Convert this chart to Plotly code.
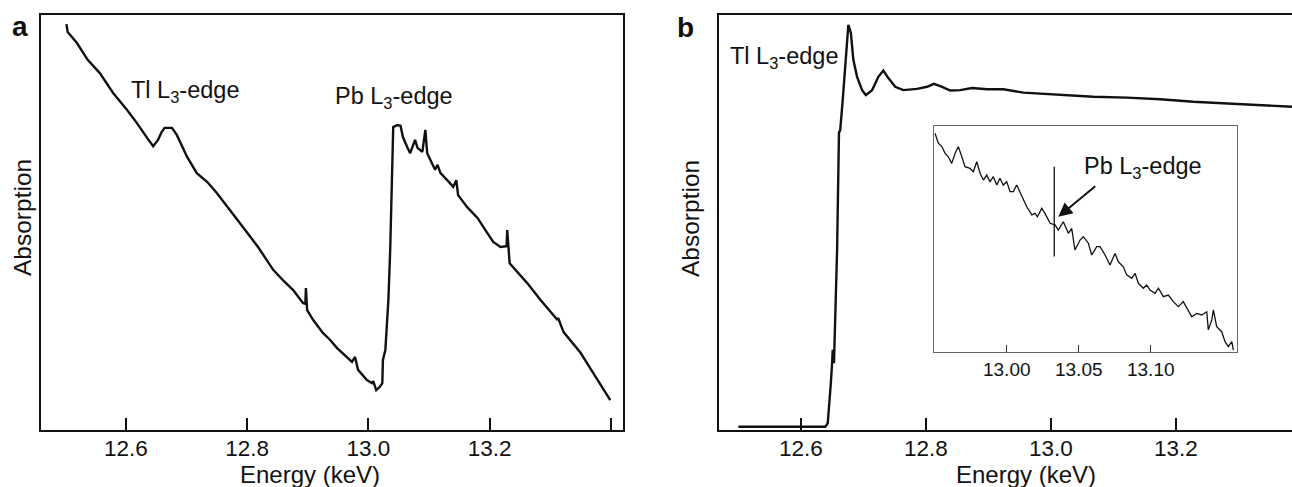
import plotly.graph_objects as go

# ---------------- data ----------------
# Panel a: full spectrum across both edges
energy_a = [12.502, 12.504, 12.519, 12.537, 12.557, 12.579, 12.602, 12.618, 12.635, 12.645,
            12.653, 12.659, 12.664, 12.676, 12.684, 12.701, 12.717, 12.734, 12.750, 12.772,
            12.793, 12.818, 12.843, 12.859, 12.876, 12.892, 12.896, 12.897, 12.899, 12.901,
            12.909, 12.925, 12.937, 12.948, 12.973, 12.978, 12.983, 12.998, 13.006, 13.008,
            13.013, 13.019, 13.023, 13.024, 13.028, 13.033, 13.036, 13.041, 13.048, 13.053,
            13.057, 13.064, 13.069, 13.077, 13.081, 13.089, 13.094, 13.097, 13.105, 13.110,
            13.114, 13.119, 13.130, 13.140, 13.145, 13.148, 13.163, 13.180, 13.196, 13.206,
            13.218, 13.228, 13.229, 13.231, 13.233, 13.262, 13.284, 13.312, 13.313, 13.322,
            13.350, 13.371, 13.399]
absorb_a = [0.978, 0.959, 0.933, 0.892, 0.860, 0.812, 0.771, 0.740, 0.704, 0.684,
            0.699, 0.718, 0.728, 0.728, 0.711, 0.658, 0.619, 0.598, 0.571, 0.530,
            0.489, 0.441, 0.386, 0.361, 0.337, 0.306, 0.304, 0.342, 0.289, 0.284,
            0.265, 0.234, 0.217, 0.198, 0.164, 0.176, 0.145, 0.120, 0.113, 0.118,
            0.096, 0.104, 0.113, 0.169, 0.193, 0.313, 0.434, 0.730, 0.735, 0.733,
            0.706, 0.682, 0.667, 0.699, 0.680, 0.670, 0.723, 0.667, 0.643, 0.627,
            0.639, 0.619, 0.602, 0.586, 0.602, 0.566, 0.537, 0.511, 0.475, 0.453,
            0.441, 0.443, 0.482, 0.434, 0.402, 0.354, 0.313, 0.265, 0.270, 0.236,
            0.186, 0.137, 0.072]

# Panel b: Tl L3-edge XANES
energy_b = [12.500, 12.588, 12.639, 12.643, 12.645, 12.648, 12.650, 12.651, 12.653, 12.655,
            12.658, 12.661, 12.663, 12.667, 12.671, 12.676, 12.680, 12.684, 12.690, 12.698,
            12.704, 12.714, 12.724, 12.732, 12.740, 12.751, 12.764, 12.786, 12.802, 12.813,
            12.826, 12.839, 12.855, 12.874, 12.898, 12.924, 12.956, 13.015, 13.068, 13.122,
            13.175, 13.228, 13.282, 13.335, 13.386]
absorb_b = [0.008, 0.008, 0.008, 0.016, 0.048, 0.113, 0.161, 0.193, 0.161, 0.272,
            0.434, 0.716, 0.723, 0.795, 0.875, 0.976, 0.957, 0.892, 0.851, 0.819,
            0.807, 0.819, 0.851, 0.866, 0.848, 0.827, 0.819, 0.822, 0.827, 0.834,
            0.827, 0.818, 0.819, 0.824, 0.821, 0.821, 0.813, 0.807, 0.803, 0.801,
            0.797, 0.791, 0.787, 0.783, 0.779]

# Inset: zoom around the Pb L3-edge
energy_inset = [12.9502, 12.9525, 12.9549, 12.9572, 12.9594, 12.9618, 12.9641, 12.9664, 12.9688, 12.9710,
                12.9745, 12.9768, 12.9792, 12.9815, 12.9838, 12.9861, 12.9884, 12.9907, 12.9931, 12.9953,
                12.9976, 13.0000, 13.0023, 13.0046, 13.0069, 13.0104, 13.0139, 13.0174, 13.0197, 13.0213,
                13.0243, 13.0266, 13.0301, 13.0335, 13.0358, 13.0393, 13.0428, 13.0451, 13.0474, 13.0509,
                13.0532, 13.0567, 13.0590, 13.0625, 13.0648, 13.0683, 13.0717, 13.0752, 13.0775, 13.0810,
                13.0833, 13.0868, 13.0891, 13.0914, 13.0949, 13.0972, 13.0995, 13.1030, 13.1053, 13.1088,
                13.1122, 13.1157, 13.1192, 13.1226, 13.1261, 13.1285, 13.1319, 13.1354, 13.1389, 13.1400,
                13.1424, 13.1435, 13.1458, 13.1493, 13.1516, 13.1539, 13.1563, 13.1574]
absorb_inset = [0.968, 0.924, 0.909, 0.879, 0.864, 0.835, 0.879, 0.909, 0.864, 0.820,
                0.813, 0.798, 0.842, 0.791, 0.761, 0.783, 0.754, 0.776, 0.739, 0.769,
                0.739, 0.754, 0.710, 0.710, 0.739, 0.688, 0.643, 0.607, 0.614, 0.599,
                0.636, 0.614, 0.570, 0.563, 0.540, 0.577, 0.526, 0.548, 0.452, 0.496,
                0.511, 0.482, 0.430, 0.467, 0.467, 0.430, 0.386, 0.437, 0.400, 0.378,
                0.342, 0.327, 0.349, 0.305, 0.283, 0.297, 0.275, 0.261, 0.283, 0.246,
                0.253, 0.224, 0.202, 0.224, 0.187, 0.157, 0.172, 0.165, 0.179, 0.099,
                0.143, 0.187, 0.113, 0.091, 0.047, 0.025, 0.047, 0.010]

tick_vals_a = [12.6, 12.8, 13.0, 13.2, 13.4]
tick_text_a = ["12.6", "12.8", "13.0", "13.2", ""]
tick_vals_b = [12.6, 12.8, 13.0, 13.2]
tick_text_b = ["12.6", "12.8", "13.0", "13.2"]
tick_vals_inset = [13.00, 13.05, 13.10]
tick_text_inset = ["13.00", "13.05", "13.10"]

pb_edge_energy = 13.033
pb_edge_marker_span = [0.423, 0.820]
arrow_tail = [13.0625, 0.739]
arrow_tip = [13.0358, 0.599]

# ---------------- figure ----------------
W, H = 1292, 487
FONT = "Liberation Sans, Arial, Helvetica, sans-serif"
BLACK = "#111111"

def px_x(p):
    return p / W

def px_y(p):
    return 1 - p / H

fig = go.Figure()
fig.add_trace(go.Scatter(x=energy_a, y=absorb_a, mode="lines", xaxis="x", yaxis="y",
                         line=dict(color=BLACK, width=2.4)))
fig.add_trace(go.Scatter(x=energy_b, y=absorb_b, mode="lines", xaxis="x2", yaxis="y2",
                         line=dict(color=BLACK, width=2.4)))
fig.add_trace(go.Scatter(x=energy_inset, y=absorb_inset, mode="lines", xaxis="x3", yaxis="y3",
                         line=dict(color=BLACK, width=1.3)))
fig.add_trace(go.Scatter(x=[pb_edge_energy, pb_edge_energy], y=pb_edge_marker_span, mode="lines",
                         xaxis="x3", yaxis="y3", line=dict(color=BLACK, width=1.3)))

ydom = [px_y(430), px_y(15)]
main_x = dict(showline=True, linecolor=BLACK, linewidth=1.8, mirror=True,
              ticks="inside", ticklen=12, tickwidth=1.6, tickcolor=BLACK,
              showgrid=False, zeroline=False, ticklabelstandoff=-3,
              tickfont=dict(family=FONT, size=22.5, color=BLACK))
main_y = dict(showline=True, linecolor=BLACK, linewidth=1.8,
              ticks="", showticklabels=False, showgrid=False, zeroline=False, range=[0, 1])

fig.update_layout(
    width=W, height=H, autosize=False,
    margin=dict(l=0, r=0, t=0, b=0),
    paper_bgcolor="white", plot_bgcolor="white",
    showlegend=False,
    xaxis=dict(main_x, domain=[px_x(41), px_x(623)], range=[12.46, 13.42],
               tickvals=tick_vals_a, ticktext=tick_text_a, anchor="y"),
    yaxis=dict(main_y, domain=ydom, mirror=True, anchor="x"),
    xaxis2=dict(main_x, domain=[px_x(719), 1.0], range=[12.469, 13.386],
                tickvals=tick_vals_b, ticktext=tick_text_b, anchor="y2"),
    yaxis2=dict(main_y, domain=ydom, mirror=False, anchor="x2"),
    xaxis3=dict(domain=[px_x(934.3), px_x(1236.7)], range=[12.9497, 13.1597], anchor="y3",
                showline=True, linecolor="#666666", linewidth=1.2, mirror=True,
                ticks="inside", ticklen=7, tickwidth=1.2, tickcolor="#333333",
                tickvals=tick_vals_inset, ticktext=tick_text_inset,
                tickfont=dict(family=FONT, size=19, color=BLACK),
                showgrid=False, zeroline=False),
    yaxis3=dict(domain=[px_y(352.3), px_y(126)], range=[0, 1], anchor="x3",
                showline=True, linecolor="#666666", linewidth=1.2, mirror=True,
                ticks="", showticklabels=False, showgrid=False, zeroline=False),
)

txt = dict(family=FONT, size=23.5, color=BLACK)
C = dict(xanchor="center", yanchor="middle", showarrow=False)
ann = []
# panel letters
ann.append(dict(C, text="<b>a</b>", x=px_x(19.5), y=px_y(27), xref="paper", yref="paper",
                font=dict(family=FONT, size=28, color=BLACK)))
ann.append(dict(C, text="<b>b</b>", x=px_x(685), y=px_y(28), xref="paper", yref="paper",
                font=dict(family=FONT, size=28, color=BLACK)))
# axis titles
for xc in (310, 1026):
    ann.append(dict(C, text="Energy (keV)", x=px_x(xc), y=px_y(474), xref="paper", yref="paper",
                    font=dict(family=FONT, size=24, color=BLACK)))
for xc in (22, 690):
    ann.append(dict(C, text="Absorption", x=px_x(xc), y=px_y(218), xref="paper", yref="paper",
                    textangle=-90, font=dict(family=FONT, size=24.5, color=BLACK)))
# edge labels
ann.append(dict(C, text="Tl L<sub>3</sub>-edge", x=12.697, y=0.815, xref="x", yref="y", font=txt))
ann.append(dict(C, text="Pb L<sub>3</sub>-edge", x=13.043, y=0.800, xref="x", yref="y", font=txt))
ann.append(dict(C, text="Tl L<sub>3</sub>-edge", x=12.573, y=0.897, xref="x2", yref="y2", font=txt))
ann.append(dict(C, text="Pb L<sub>3</sub>-edge", x=13.0943, y=0.817, xref="x3", yref="y3", font=txt))
# arrow
ann.append(dict(text="", x=arrow_tip[0], y=arrow_tip[1], xref="x3", yref="y3",
                ax=arrow_tail[0], ay=arrow_tail[1], axref="x3", ayref="y3",
                showarrow=True, arrowhead=2, arrowsize=1.4, arrowwidth=2, arrowcolor=BLACK))
fig.update_layout(annotations=ann)

fig.write_html("out.html")
